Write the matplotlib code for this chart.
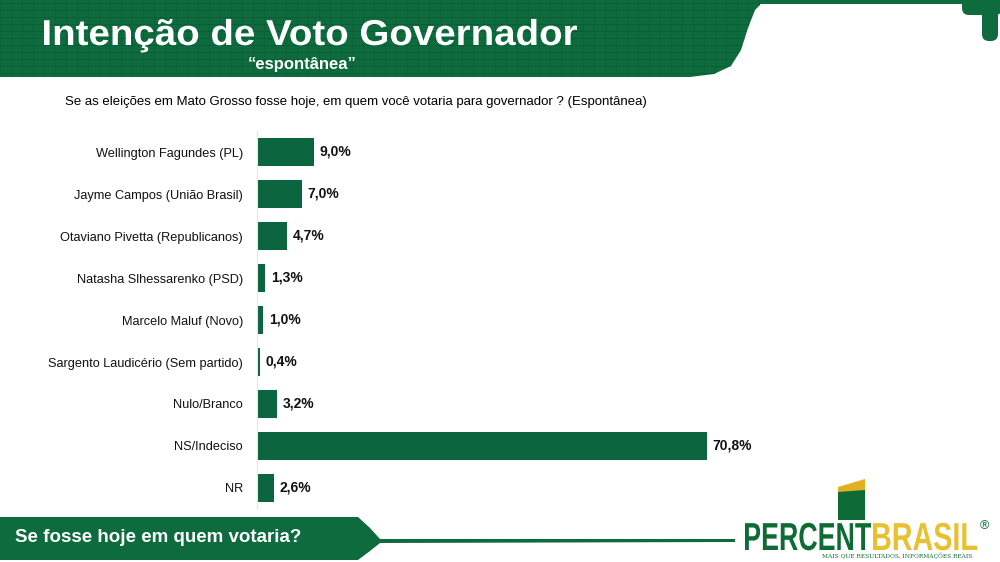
import matplotlib
matplotlib.use("Agg")
import matplotlib.pyplot as plt
from matplotlib.patches import Polygon, Rectangle, FancyBboxPatch, PathPatch
from matplotlib.textpath import TextPath
from matplotlib.font_manager import FontProperties
from matplotlib.transforms import Affine2D
import numpy as np

plt.rcParams['font.family'] = ['Liberation Sans', 'DejaVu Sans']

# dados
candidatos = ["Wellington Fagundes (PL)", "Jayme Campos (União Brasil)",
              "Otaviano Pivetta (Republicanos)", "Natasha Slhessarenko (PSD)",
              "Marcelo Maluf (Novo)", "Sargento Laudicério (Sem partido)",
              "Nulo/Branco", "NS/Indeciso", "NR"]
percentuais = [9.0, 7.0, 4.7, 1.3, 1.0, 0.4, 3.2, 70.8, 2.6]
rotulos = ["9,0%", "7,0%", "4,7%", "1,3%", "1,0%", "0,4%", "3,2%", "70,8%", "2,6%"]

titulo = "Intenção de Voto Governador"
subtitulo = "\u201cespontânea\u201d"
pergunta = "Se as eleições em Mato Grosso fosse hoje, em quem você votaria para governador ? (Espontânea)"
rodape = "Se fosse hoje em quem votaria?"

verde = "#0b6640"
verde_logo = "#0e6b35"

W, H = 1000, 562
fig = plt.figure(figsize=(10, 5.62), dpi=100)
fig.patch.set_facecolor("white")

# camada de fundo em pixels
bg = fig.add_axes([0, 0, 1, 1])
bg.set_xlim(0, W)
bg.set_ylim(H, 0)
bg.axis("off")

fp_bold = FontProperties(family="Liberation Sans", weight="bold")


def texto_largura(s, x, base, px, larg, cor):
    # escala o texto para ocupar a largura pedida
    tp = TextPath((0, 0), s, size=100, prop=fp_bold)
    e = tp.get_extents()
    sx = larg / (e.x1 - e.x0)
    t = Affine2D().translate(-e.x0, 0).scale(sx, -px / 100).translate(x, base)
    bg.add_patch(PathPatch(tp, transform=t + bg.transData, fc=cor, ec="none",
                           zorder=5))
    return x + larg


# faixa do titulo
topo = [(0, 0), (745, 0), (760, 0), (760, 5), (755, 10), (748, 28), (741, 50),
        (731, 66), (714, 74), (690, 77), (0, 77)]
faixa = Polygon(topo, closed=True, fc="#0d6b3e", ec="none")
bg.add_patch(faixa)
bg.add_patch(Rectangle((740, 0), 240, 4, fc="#0d6b3e", ec="none"))
# textura simples
for yy in range(3, 77, 7):
    l, = bg.plot([0, 760], [yy, yy], color="#09512e", lw=0.7, alpha=0.55, zorder=2)
    l.set_clip_path(faixa)
for xx in range(0, 760, 11):
    l, = bg.plot([xx, xx], [0, 77], color="#09512e", lw=0.5, alpha=0.4, zorder=2)
    l.set_clip_path(faixa)
# gancho canto direito
bg.add_patch(FancyBboxPatch((962, -10), 40, 25, boxstyle="round,pad=0,rounding_size=7",
                            fc="#0d6b3e", ec="none"))
bg.add_patch(FancyBboxPatch((982, -10), 16, 51, boxstyle="round,pad=0,rounding_size=7",
                            fc="#0d6b3e", ec="none"))

texto_largura(titulo, 44, 45, 36, 533, "white")
bg.text(302, 64, subtitulo, color="white", fontsize=12, fontweight="bold",
        va="center", ha="center", zorder=5)
bg.text(65, 102, pergunta, color="black", fontsize=9.5, va="center", ha="left")

# rodape
rod = [(0, 517), (358, 517), (370, 528), (380, 539), (735, 539), (735, 542),
       (380, 543), (370, 551), (358, 560), (0, 560)]
bg.add_patch(Polygon(rod, closed=True, fc="#0d6b3e", ec="none"))
bg.text(15, 538, rodape, color="white", fontsize=13.5, fontweight="bold",
        va="center", ha="left")

# logo
bg.add_patch(Rectangle((838, 490), 27, 30, fc=verde_logo, ec="none"))
bg.add_patch(Polygon([(838, 487), (865, 479), (865, 490), (838, 492)],
                     closed=True, fc="#e0b020", ec="none"))
fim = texto_largura("PERCENT", 745, 550, 39, 126, verde_logo)
fim = texto_largura("BRASIL", fim + 2, 550, 39, 104, "#e8c030")
bg.text(fim + 7, 526, "®", color=verde_logo, fontsize=9, va="center", ha="center")
bg.text(897, 556, "MAIS QUE RESULTADOS, INFORMAÇÕES REAIS", color=verde_logo,
        fontsize=4.2, va="center", ha="center", family="DejaVu Serif")

# grafico de barras
ax = fig.add_axes([0.257, 1 - 509 / H, 0.700, 378 / H])
y = np.arange(len(candidatos))
ax.barh(y, percentuais, height=0.67, color=verde)
ax.set_xlim(0, 110.1)
ax.set_ylim(len(candidatos) - 0.5, -0.5)
ax.set_yticks(y)
ax.set_yticklabels(candidatos, fontsize=9.2, color="#111111")
ax.tick_params(axis="y", length=0, pad=10)
ax.set_xticks([])
for s in ["top", "right", "bottom"]:
    ax.spines[s].set_visible(False)
ax.spines["left"].set_color("#e4e4e4")
ax.spines["left"].set_linewidth(0.8)
ax.patch.set_alpha(0)
for yi, v, r in zip(y, percentuais, rotulos):
    ax.text(v + 0.9, yi, r, va="center", ha="left", fontsize=10,
            fontweight="bold", color="#111111")

fig.savefig("out.png", dpi=100)
